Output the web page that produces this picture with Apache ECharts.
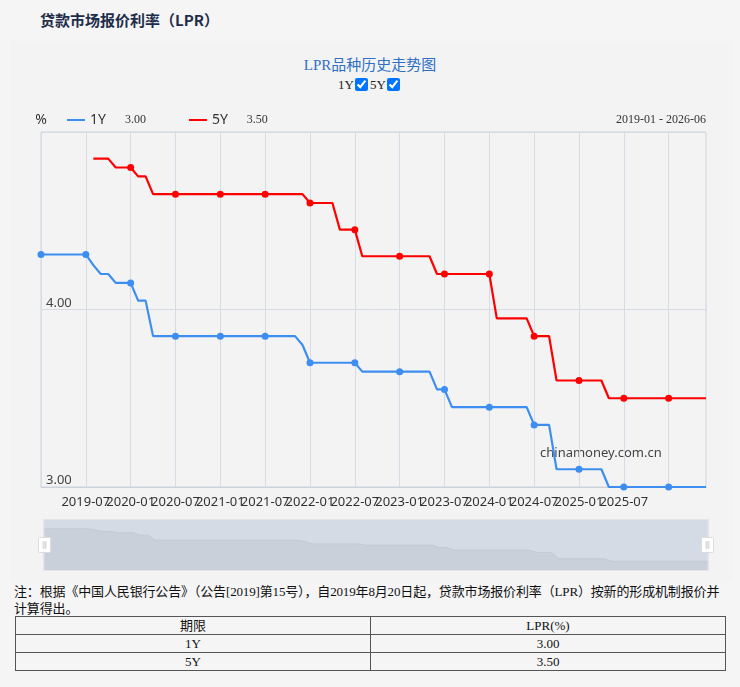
<!DOCTYPE html>
<html>
<head>
<meta charset="utf-8">
<script src="https://cdn.jsdelivr.net/npm/echarts@6/dist/echarts.min.js"></script>
<style>
  body { margin: 0; width: 740px; height: 687px; background: #f5f5f5; position: relative; overflow: hidden;
         font-family: "Noto Sans CJK SC", "Noto Sans", sans-serif; }
  .head { position: absolute; left: 40px; top: 9px; font-size: 15px; font-weight: bold; color: #1e2d4a; }
  .panel { position: absolute; left: 10px; top: 41px; width: 722px; height: 540px; background: #f3f3f3; }
  .ctitle { position: absolute; left: 0; top: 53px; width: 740px; text-align: center; font-size: 15px;
            color: #2f6fc4; font-family: "Liberation Serif", "Noto Sans CJK SC", serif; }
  .checks { position: absolute; left: 0; top: 77px; width: 740px; text-align: center; font-size: 13px;
            color: #222; font-family: "Liberation Serif", serif; }
  .checks input { margin: 0 2px 0 1px; width: 13px; height: 13px; vertical-align: -2px; }
  #chart { position: absolute; left: 0; top: 100px; width: 740px; height: 480px; }
  .note { position: absolute; left: 14px; top: 583px; width: 716px; font-size: 13px; line-height: 17px; color: #111;
          letter-spacing: -0.15px; font-family: "Liberation Serif", "Noto Sans CJK SC", serif; }
  table { position: absolute; left: 15px; top: 616px; width: 711px; border-collapse: collapse;
          font-family: "Liberation Serif", "Noto Sans CJK SC", serif; font-size: 13px; color: #111; }
  td { border: 1px solid #555; text-align: center; height: 17px; padding: 0; width: 50%; line-height: 17px; }
</style>
</head>
<body>
<div class="head">贷款市场报价利率（LPR）</div>
<div class="panel"></div>
<div class="ctitle">LPR品种历史走势图</div>
<div class="checks">1Y<input type="checkbox" checked>5Y<input type="checkbox" checked></div>
<div id="chart"></div>
<div class="note">注：根据《中国人民银行公告》（公告[2019]第15号），自2019年8月20日起，贷款市场报价利率（LPR）按新的形成机制报价并计算得出。</div>
<table>
  <tr><td>期限</td><td>LPR(%)</td></tr>
  <tr><td>1Y</td><td>3.00</td></tr>
  <tr><td>5Y</td><td>3.50</td></tr>
</table>
<script>
// monthly LPR, 2019-01 .. 2026-06
const months = [
  "2019-01", "2019-02", "2019-03", "2019-04", "2019-05", "2019-06", "2019-07", "2019-08", "2019-09", "2019-10", "2019-11", "2019-12",
  "2020-01", "2020-02", "2020-03", "2020-04", "2020-05", "2020-06", "2020-07", "2020-08", "2020-09", "2020-10", "2020-11", "2020-12",
  "2021-01", "2021-02", "2021-03", "2021-04", "2021-05", "2021-06", "2021-07", "2021-08", "2021-09", "2021-10", "2021-11", "2021-12",
  "2022-01", "2022-02", "2022-03", "2022-04", "2022-05", "2022-06", "2022-07", "2022-08", "2022-09", "2022-10", "2022-11", "2022-12",
  "2023-01", "2023-02", "2023-03", "2023-04", "2023-05", "2023-06", "2023-07", "2023-08", "2023-09", "2023-10", "2023-11", "2023-12",
  "2024-01", "2024-02", "2024-03", "2024-04", "2024-05", "2024-06", "2024-07", "2024-08", "2024-09", "2024-10", "2024-11", "2024-12",
  "2025-01", "2025-02", "2025-03", "2025-04", "2025-05", "2025-06", "2025-07", "2025-08", "2025-09", "2025-10", "2025-11", "2025-12",
  "2026-01", "2026-02", "2026-03", "2026-04", "2026-05", "2026-06",
];

const lpr1Y = [
  4.31, 4.31, 4.31, 4.31, 4.31, 4.31, 4.31, 4.25, 4.20, 4.20, 4.15, 4.15,
  4.15, 4.05, 4.05, 3.85, 3.85, 3.85, 3.85, 3.85, 3.85, 3.85, 3.85, 3.85,
  3.85, 3.85, 3.85, 3.85, 3.85, 3.85, 3.85, 3.85, 3.85, 3.85, 3.85, 3.80,
  3.70, 3.70, 3.70, 3.70, 3.70, 3.70, 3.70, 3.65, 3.65, 3.65, 3.65, 3.65,
  3.65, 3.65, 3.65, 3.65, 3.65, 3.55, 3.55, 3.45, 3.45, 3.45, 3.45, 3.45,
  3.45, 3.45, 3.45, 3.45, 3.45, 3.45, 3.35, 3.35, 3.35, 3.10, 3.10, 3.10,
  3.10, 3.10, 3.10, 3.10, 3.00, 3.00, 3.00, 3.00, 3.00, 3.00, 3.00, 3.00,
  3.00, 3.00, 3.00, 3.00, 3.00, 3.00,
];

const lpr5Y = [
  null, null, null, null, null, null, null, 4.85, 4.85, 4.85, 4.80, 4.80,
  4.80, 4.75, 4.75, 4.65, 4.65, 4.65, 4.65, 4.65, 4.65, 4.65, 4.65, 4.65,
  4.65, 4.65, 4.65, 4.65, 4.65, 4.65, 4.65, 4.65, 4.65, 4.65, 4.65, 4.65,
  4.60, 4.60, 4.60, 4.60, 4.45, 4.45, 4.45, 4.30, 4.30, 4.30, 4.30, 4.30,
  4.30, 4.30, 4.30, 4.30, 4.30, 4.20, 4.20, 4.20, 4.20, 4.20, 4.20, 4.20,
  4.20, 3.95, 3.95, 3.95, 3.95, 3.95, 3.85, 3.85, 3.85, 3.60, 3.60, 3.60,
  3.60, 3.60, 3.60, 3.60, 3.50, 3.50, 3.50, 3.50, 3.50, 3.50, 3.50, 3.50,
  3.50, 3.50, 3.50, 3.50, 3.50, 3.50,
];

const hiddenLabels = ["2019-01", "2026-01"];
const latest = { "1Y": lpr1Y[lpr1Y.length - 1], "5Y": lpr5Y[lpr5Y.length - 1] };

let lprChart = echarts.init(document.getElementById("chart"));

let lprOption = {
  animation: false,
  textStyle: { fontFamily: "Noto Sans, sans-serif" },
  title: {
    text: months[0] + " - " + months[months.length - 1],
    right: 29,
    top: 9,
    textStyle: { fontFamily: "Liberation Serif, serif", fontSize: 12, fontWeight: "normal", color: "#333" },
  },
  legend: {
    left: 62,
    top: 8,
    icon: "rect",
    itemWidth: 18,
    itemHeight: 2,
    itemGap: 43,
    data: ["1Y", "5Y"],
    formatter: (name) => "{n|" + name + "}{v|" + latest[name].toFixed(2) + "}",
    textStyle: {
      rich: {
        n: { fontSize: 14, color: "#333" },
        v: { fontSize: 12, color: "#333", fontFamily: "Liberation Serif, serif", padding: [0, 0, 0, 19] },
      },
    },
  },
  graphic: [
    {
      type: "text",
      left: 540,
      top: 347,
      style: { text: "chinamoney.com.cn", fontSize: 13, fill: "#444", fontFamily: "Noto Sans, sans-serif" },
    },
  ],
  grid: {
    show: true,
    left: 41,
    right: 34,
    top: 32,
    bottom: 93,
    borderColor: "#ccd2dc",
    borderWidth: 1,
    backgroundColor: "transparent",
  },
  xAxis: {
    type: "category",
    boundaryGap: false,
    data: months,
    axisLine: { lineStyle: { color: "#ccd2dc" } },
    axisTick: { show: false },
    axisLabel: {
      interval: 5,
      fontSize: 13,
      color: "#333",
      margin: 9,
      formatter: (value) => (hiddenLabels.includes(value) ? "" : value),
    },
    splitLine: { show: true, interval: 5, lineStyle: { color: "#d6dbe5" } },
  },
  yAxis: {
    type: "value",
    min: 3,
    max: 5,
    interval: 1,
    name: "%",
    nameLocation: "end",
    nameGap: 5,
    nameTextStyle: { fontSize: 14, color: "#333", align: "center" },
    axisLine: { show: false },
    axisTick: { show: false },
    axisLabel: {
      inside: true,
      showMaxLabel: false,
      margin: 5,
      fontSize: 13,
      color: "#444",
      verticalAlign: "bottom",
      formatter: (v) => v.toFixed(2),
    },
    splitLine: { lineStyle: { color: "#d6dbe5" } },
  },
  dataZoom: [
    {
      type: "slider",
      xAxisIndex: 0,
      start: 0,
      end: 100,
      left: 41,
      right: 34,
      top: 419,
      height: 52,
      showDetail: false,
      brushSelect: false,
      moveHandleSize: 0,
      backgroundColor: "#d5dbe4",
      borderColor: "#e2e4e8",
      fillerColor: "rgba(0,0,0,0)",
      dataBackground: {
        lineStyle: { color: "#c3cad5", width: 1 },
        areaStyle: { color: "#c9d0da", opacity: 1 },
      },
      selectedDataBackground: {
        lineStyle: { color: "#c3cad5", width: 1 },
        areaStyle: { color: "#c9d0da", opacity: 1 },
      },
      handleIcon:
        "path://M1,0H11A1,1,0,0,1,12,1V14A1,1,0,0,1,11,15H1A1,1,0,0,1,0,14V1A1,1,0,0,1,1,0Z" +
        "M4.5,4V11H5.5V4ZM6.5,4V11H7.5V4Z",
      handleSize: 15,
      handleStyle: { color: "#fff", borderColor: "#dcdcdc", borderWidth: 1 },
    },
  ],
  series: [
    {
      name: "1Y",
      type: "line",
      data: lpr1Y,
      symbol: "circle",
      symbolSize: 7,
      lineStyle: { width: 2.2, color: "#3d8ef0" },
      itemStyle: { color: "#3d8ef0" },
    },
    {
      name: "5Y",
      type: "line",
      data: lpr5Y,
      symbol: "circle",
      symbolSize: 7,
      lineStyle: { width: 2.2, color: "#ff0000" },
      itemStyle: { color: "#ff0000" },
    },
  ],
};

lprChart.setOption(lprOption);
</script>
</body>
</html>
